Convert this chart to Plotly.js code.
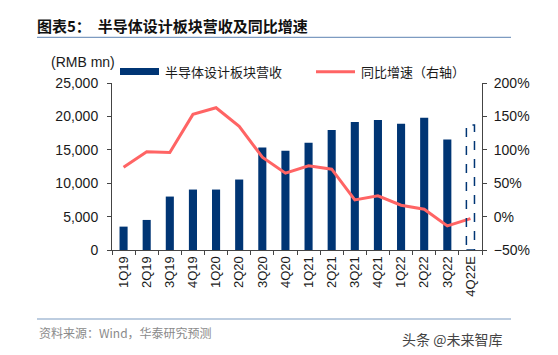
<!DOCTYPE html>
<html><head><meta charset="utf-8">
<script src="https://cdn.plot.ly/plotly-3.0.1.min.js"></script>
<style>html,body{margin:0;padding:0;background:#fff}</style>
</head><body><div id="chart" style="width:558px;height:355px"></div>
<script>
const categories = ['1Q19','2Q19','3Q19','4Q19','1Q20','2Q20','3Q20','4Q20','1Q21','2Q21','3Q21','4Q21','1Q22','2Q22','3Q22','4Q22E'];
const revenue = [3500,4500,8000,9050,9050,10550,15350,14850,16050,17950,19150,19450,18900,19800,16550,null];
const revenueEstimate = [null,null,null,null,null,null,null,null,null,null,null,null,null,null,null,18700];
const yoyGrowth = [74,97,96,153,163,135,89,65,76,71,25,31,17,11,-14,-3];
const seriesNames = ['半导体设计板块营收','同比增速（右轴）'];
const titleText = '图表5：  半导体设计板块营收及同比增速';
const sourceText = '资料来源：Wind，华泰研究预测';
const unitText = '(RMB mn)';

const NAVY = '#003574';
const RED = '#FF6464';
const W = 558, H = 355;
const L = 112, R = 76, T = 83, B = 105;
const pw = W - L - R, ph = H - T - B;
const px = v => (v - L) / pw;
const py = v => (H - B - v) / ph;
const barFrac = 0.35;
const cjk = '"Noto Sans CJK SC", "Noto Sans", sans-serif';
const latin = '"Liberation Sans", Arial, sans-serif';

const traces = [
  {type:'bar', x:categories, y:revenue, name:seriesNames[0], marker:{color:NAVY}, showlegend:false, hoverinfo:'skip'},
  {type:'bar', x:categories, y:revenueEstimate, marker:{color:'rgba(255,255,255,1)'}, showlegend:false, hoverinfo:'skip'},
  {type:'scatter', mode:'lines', x:categories, y:yoyGrowth, yaxis:'y2', name:seriesNames[1], line:{color:RED, width:3}, showlegend:false, hoverinfo:'skip'}
];

const shapes = [];
revenueEstimate.forEach((v,i)=>{
  if (v !== null) {
    shapes.push({type:'rect', xref:'x', yref:'y', x0:i-barFrac/2, x1:i+barFrac/2, y0:0, y1:v,
      line:{color:NAVY, width:1.5, dash:'dash'}, fillcolor:'rgba(0,0,0,0)', layer:'above'});
  }
});
// header / footer rules
shapes.push({type:'line', xref:'paper', yref:'paper', x0:px(37), x1:px(511), y0:py(37.3), y1:py(37.3), line:{color:'#7D9BC1', width:1.2}});
shapes.push({type:'line', xref:'paper', yref:'paper', x0:px(37), x1:px(511), y0:py(319), y1:py(319), line:{color:'#7D9BC1', width:1.2}});
// legend symbols
shapes.push({type:'rect', xref:'paper', yref:'paper', x0:px(120), x1:px(159), y0:py(75), y1:py(68), fillcolor:NAVY, line:{width:0}});
shapes.push({type:'line', xref:'paper', yref:'paper', x0:px(316), x1:px(355), y0:py(71.7), y1:py(71.7), line:{color:RED, width:3}});

const annotations = [
  {xref:'paper', yref:'paper', x:px(117), y:py(62), xanchor:'right', yanchor:'middle', text:unitText, showarrow:false, font:{family:latin, size:14, color:'#1a1a1a'}},
  {xref:'paper', yref:'paper', x:px(163), y:py(71.5), xanchor:'left', yanchor:'middle', text:seriesNames[0], showarrow:false, font:{family:cjk, size:13, color:'#1a1a1a'}},
  {xref:'paper', yref:'paper', x:px(359), y:py(71.5), xanchor:'left', yanchor:'middle', text:seriesNames[1], showarrow:false, font:{family:cjk, size:13, color:'#1a1a1a'}},
  {xref:'paper', yref:'paper', x:px(37), y:py(332), xanchor:'left', yanchor:'middle', text:sourceText, showarrow:false, font:{family:cjk, size:12, color:'#8a8a8a'}},
  {xref:'paper', yref:'paper', x:px(504), y:py(339), xanchor:'right', yanchor:'middle', text:'头条 @未来智库', showarrow:false, font:{family:cjk, size:14, color:'#444'}}
];

const layout = {
  width:W, height:H,
  margin:{l:L, r:R, t:T, b:B, pad:0},
  paper_bgcolor:'#fff', plot_bgcolor:'#fff',
  barmode:'overlay', bargap:1-barFrac,
  showlegend:false,
  title:{text:'<b>'+titleText+'</b>', xref:'container', yref:'container', x:37/W, xanchor:'left', y:1-26.5/H, yanchor:'middle', font:{family:cjk, size:15, color:'#111'}},
  xaxis:{type:'category', showline:true, linecolor:'#444', linewidth:1, ticks:'outside', ticklen:4, tickcolor:'#444', tickson:'boundaries', tickangle:-90, showgrid:false, zeroline:false, tickfont:{family:latin, size:13, color:'#1a1a1a'}, range:[-0.5, categories.length-0.5]},
  yaxis:{range:[0,25000], dtick:5000, tickformat:',d', showline:true, linecolor:'#444', linewidth:1, ticks:'outside', ticklen:4, tickcolor:'#444', showgrid:false, zeroline:false, tickfont:{family:latin, size:14, color:'#1a1a1a'}, ticklabelstandoff:6},
  yaxis2:{overlaying:'y', side:'right', range:[-50,200], dtick:50, ticksuffix:'%', showline:true, linecolor:'#444', linewidth:1, ticks:'outside', ticklen:4, tickcolor:'#444', showgrid:false, zeroline:false, tickfont:{family:latin, size:14, color:'#1a1a1a'}, ticklabelstandoff:4},
  shapes:shapes,
  annotations:annotations
};

Plotly.newPlot('chart', traces, layout, {staticPlot:true, displayModeBar:false});
</script></body></html>
